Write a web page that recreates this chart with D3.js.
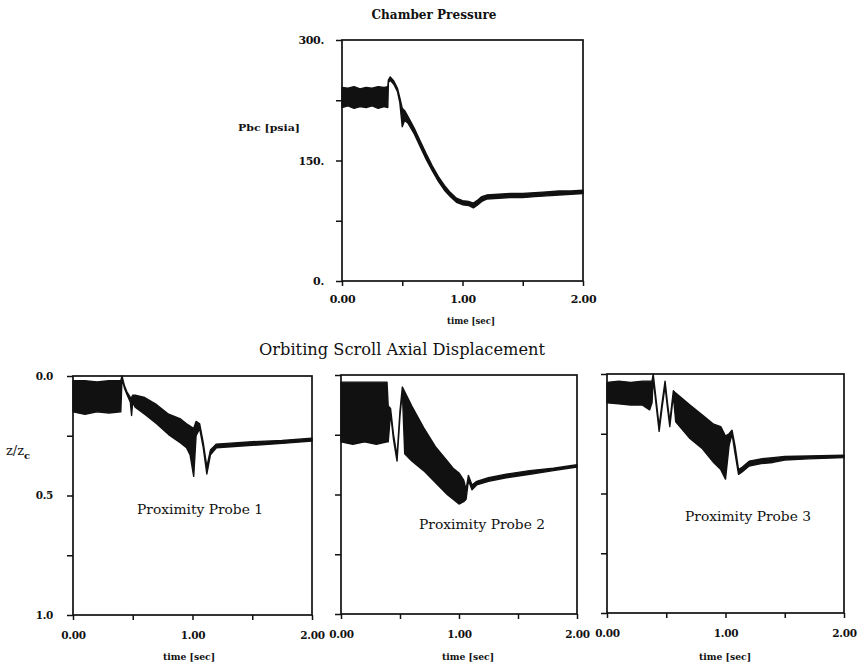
<!DOCTYPE html>
<html>
<head>
<meta charset="utf-8">
<script src="https://cdn.jsdelivr.net/npm/d3@7"></script>
<style>
  body { margin: 0; background: #fff; }
  svg { display: block; background: #fff; }
  text { font-family: "DejaVu Serif", "Liberation Serif", serif; fill: #111; }
</style>
</head>
<body>
<svg></svg>
<script>
// ---- data ----
// chamber pressure: band of the trace (low / high edge) in psia
const pressTime = [0, 0.05, 0.10, 0.15, 0.20, 0.25, 0.30, 0.35, 0.38, 0.385, 0.40, 0.43, 0.46, 0.48, 0.50, 0.52, 0.55, 0.60, 0.65, 0.70, 0.75, 0.80, 0.85, 0.90, 0.95, 1.00, 1.05, 1.09, 1.12, 1.16, 1.20, 1.30, 1.40, 1.50, 1.60, 1.70, 1.80, 1.90, 2.00];
const pressHigh = [241, 240, 242, 239, 241, 240, 242, 241, 242, 250, 254, 249, 240, 228, 215, 212, 204, 190, 174, 158, 143, 130, 119, 110, 103, 100, 99, 97, 100, 105, 107, 108, 109, 109, 110, 111, 112, 112, 113];
const pressLow  = [216, 218, 215, 217, 216, 218, 215, 217, 216, 247, 250, 245, 236, 222, 192, 200, 196, 183, 167, 151, 137, 124, 113, 105, 98, 95, 94, 91, 94, 99, 102, 103, 104, 104, 105, 106, 107, 108, 109];

// proximity probes: z/zc, top edge (smaller) and bottom edge of the trace band
const probe1Time   = [0, 0.10, 0.20, 0.30, 0.40, 0.41, 0.43, 0.45, 0.48, 0.49, 0.50, 0.52, 0.60, 0.70, 0.80, 0.90, 0.95, 0.98, 1.01, 1.03, 1.06, 1.09, 1.12, 1.15, 1.20, 1.35, 1.50, 1.75, 2.00];
const probe1Top    = [0.02, 0.02, 0.025, 0.02, 0.02, 0.0, 0.04, 0.065, 0.09, 0.09, 0.08, 0.08, 0.09, 0.12, 0.16, 0.18, 0.20, 0.21, 0.22, 0.19, 0.20, 0.28, 0.38, 0.31, 0.285, 0.28, 0.275, 0.27, 0.26];
const probe1Bottom = [0.15, 0.16, 0.15, 0.155, 0.15, 0.01, 0.05, 0.075, 0.11, 0.165, 0.11, 0.13, 0.16, 0.20, 0.245, 0.28, 0.30, 0.33, 0.42, 0.25, 0.22, 0.30, 0.41, 0.33, 0.30, 0.295, 0.29, 0.282, 0.272];

const probe2Time   = [0, 0.10, 0.20, 0.30, 0.39, 0.40, 0.42, 0.445, 0.475, 0.50, 0.52, 0.54, 0.60, 0.70, 0.80, 0.90, 0.95, 1.00, 1.04, 1.06, 1.08, 1.11, 1.15, 1.25, 1.40, 1.60, 1.80, 2.00];
const probe2Top    = [0.03, 0.03, 0.03, 0.03, 0.03, 0.13, 0.14, 0.25, 0.34, 0.15, 0.05, 0.07, 0.13, 0.22, 0.30, 0.36, 0.39, 0.41, 0.44, 0.48, 0.42, 0.46, 0.445, 0.43, 0.415, 0.40, 0.39, 0.375];
const probe2Bottom = [0.28, 0.29, 0.28, 0.29, 0.28, 0.28, 0.16, 0.27, 0.36, 0.17, 0.07, 0.33, 0.36, 0.40, 0.45, 0.50, 0.52, 0.54, 0.53, 0.52, 0.44, 0.48, 0.46, 0.445, 0.43, 0.415, 0.40, 0.385];

const probe3Time   = [0, 0.10, 0.20, 0.30, 0.36, 0.38, 0.39, 0.415, 0.44, 0.465, 0.49, 0.51, 0.53, 0.56, 0.58, 0.70, 0.80, 0.90, 0.96, 1.00, 1.03, 1.055, 1.08, 1.11, 1.14, 1.20, 1.30, 1.40, 1.50, 1.70, 2.00];
const probe3Top    = [0.035, 0.03, 0.035, 0.03, 0.03, 0.03, 0.0, 0.11, 0.22, 0.12, 0.03, 0.12, 0.20, 0.07, 0.08, 0.13, 0.17, 0.21, 0.22, 0.26, 0.25, 0.235, 0.30, 0.40, 0.39, 0.365, 0.355, 0.35, 0.345, 0.343, 0.34];
const probe3Bottom = [0.12, 0.125, 0.13, 0.13, 0.15, 0.12, 0.02, 0.13, 0.24, 0.14, 0.05, 0.14, 0.22, 0.09, 0.20, 0.27, 0.31, 0.37, 0.40, 0.44, 0.30, 0.25, 0.33, 0.42, 0.41, 0.385, 0.375, 0.37, 0.36, 0.355, 0.35];

// ticks and labels
const timeTicks = [0, 0.5, 1, 1.5, 2];
const timeLabels = {0: "0.00", 1: "1.00", 2: "2.00"};
const pressTicks = [0, 75, 150, 225, 300];
const pressLabels = {0: "0.", 150: "150.", 300: "300."};
const probeTicks = [0, 0.25, 0.5, 0.75, 1];
const probeLabels = {0: "0.0", 0.5: "0.5", 1: "1.0"};
const probeNames = ["Proximity Probe 1", "Proximity Probe 2", "Proximity Probe 3"];

const width = 868, height = 670;

const svg = d3.select("svg")
    .attr("width", width)
    .attr("height", height);

// puts a text of fixed width on the svg
function label(x, y, str, size, len, bold, anchor) {
    return svg.append("text")
        .attr("x", x).attr("y", y)
        .attr("text-anchor", anchor || "middle")
        .attr("textLength", len)
        .attr("lengthAdjust", "spacingAndGlyphs")
        .style("font-size", size + "px")
        .style("font-weight", bold ? "bold" : "normal")
        .text(str);
}

// draws a frame, the trace band and the axes for one small plot
function drawPlot(box, yDomain, time, top, bottom, yTicks, yLabels, showYLabels) {
    const x = d3.scaleLinear().domain([0, 2]).range([box.left, box.right]);
    const y = d3.scaleLinear().domain(yDomain).range([box.top, box.bottom]);

    const g = svg.append("g");

    // trace band
    const band = d3.area()
        .x((d, i) => x(time[i]))
        .y0((d, i) => y(bottom[i]))
        .y1((d, i) => y(top[i]));

    g.append("path")
        .datum(time)
        .attr("d", band)
        .attr("fill", "#111")
        .attr("stroke", "#111")
        .attr("stroke-width", 1.4)
        .attr("stroke-linejoin", "round");

    // frame
    g.append("rect")
        .attr("x", box.left)
        .attr("y", box.top)
        .attr("width", box.right - box.left)
        .attr("height", box.bottom - box.top)
        .attr("fill", "none")
        .attr("stroke", "#111")
        .attr("stroke-width", 1.7);

    const xAxis = g.append("g")
        .attr("transform", `translate(0,${box.bottom})`)
        .call(d3.axisBottom(x)
            .tickValues(timeTicks)
            .tickSize(5)
            .tickPadding(box.xPad)
            .tickFormat(d => timeLabels[d] || ""));

    const yAxis = g.append("g")
        .attr("transform", `translate(${box.left},0)`)
        .call(d3.axisLeft(y)
            .tickValues(yTicks)
            .tickSize(6)
            .tickPadding(box.yPad)
            .tickFormat(d => showYLabels ? (yLabels[d] || "") : ""));

    [xAxis, yAxis].forEach(a => {
        a.select(".domain").remove();
        a.selectAll("line").attr("stroke", "#111").attr("stroke-width", 1.5);
        a.selectAll("text")
            .attr("fill", "#111")
            .style("font-family", "'DejaVu Serif', serif")
            .style("font-weight", "bold")
            .style("font-size", box.fontSize + "px")
            .style("letter-spacing", "-0.3px");
    });

    return {x, y, g};
}

// ---- Chamber pressure ----
const pressBox = {left: 342, right: 583, top: 40, bottom: 281, xPad: 9, yPad: 12, fontSize: 11};
drawPlot(pressBox, [300, 0], pressTime, pressHigh, pressLow, pressTicks, pressLabels, true);

label(434, 19, "Chamber Pressure", 12, 125, true);
label(238, 131, "Pbc [psia]", 10, 62, true, "start");
label(471, 324, "time [sec]", 10, 48, true);

// ---- Orbiting scroll axial displacement ----
label(402, 355, "Orbiting Scroll Axial Displacement", 16, 286, false);

const probeBoxes = [
    {left: 73, right: 312, top: 376, bottom: 615, xPad: 12, yPad: 14, fontSize: 10.5, nameX: 200, nameY: 514, timeX: 189},
    {left: 341, right: 577, top: 375, bottom: 614, xPad: 12, yPad: 14, fontSize: 10.5, nameX: 482, nameY: 529, timeX: 468},
    {left: 607, right: 844, top: 374, bottom: 613, xPad: 12, yPad: 14, fontSize: 10.5, nameX: 748, nameY: 521, timeX: 725}
];
const probeSeries = [
    [probe1Time, probe1Top, probe1Bottom],
    [probe2Time, probe2Top, probe2Bottom],
    [probe3Time, probe3Top, probe3Bottom]
];

probeBoxes.forEach((box, i) => {
    const [t, top, bottom] = probeSeries[i];
    drawPlot(box, [0, 1], t, top, bottom, probeTicks, probeLabels, i === 0);

    label(box.nameX, box.nameY, probeNames[i], 13.5, 126, false);
    label(box.timeX, 660, "time [sec]", 10, 52, true);
});

// y label of the probe row
const zLabel = svg.append("text")
    .attr("x", 6).attr("y", 455)
    .style("font-size", "13px");
zLabel.append("tspan").text("z/z");
zLabel.append("tspan")
    .attr("dy", 4)
    .style("font-size", "10px")
    .style("font-weight", "bold")
    .text("c");
</script>
</body>
</html>
